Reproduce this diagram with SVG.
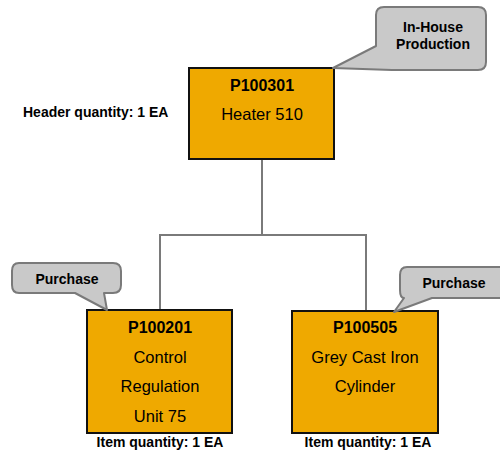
<svg xmlns="http://www.w3.org/2000/svg" width="500" height="456" viewBox="0 0 500 456">
<style>
.box{fill:#efa900;stroke:#111;stroke-width:2}
.call{fill:#c9c9c9;stroke:#7a7a7a;stroke-width:2;stroke-linejoin:round}
.conn{fill:none;stroke:#7a7a7a;stroke-width:2}
text{font-family:"Liberation Sans",Arial,sans-serif;fill:#000}
.id{font-size:16px;font-weight:bold;text-anchor:middle}
.nm{font-size:16.5px;text-anchor:middle}
.lb{font-size:14px;font-weight:bold}
.cl{font-size:14px;font-weight:bold;text-anchor:middle}
</style>
<rect width="500" height="456" fill="#fff"/>
<g id="connectors">
<path class="conn" d="M262,160 V235 M160,235 H366 M160,234 V310 M366,234 V311"/>
</g>
<g id="node-P100301">
<rect class="box" x="189" y="68" width="145" height="91"/>
<text class="id" x="262" y="91">P100301</text>
<text class="nm" x="262" y="120">Heater 510</text>
</g>
<g id="callout-inhouse">
<path class="call" d="M384,7 H478 Q486,7 486,15 V62 Q486,70 478,70 H392 L333,68 L376,46 V15 Q376,7 384,7 Z"/>
<text class="cl" x="433" y="32">In-House</text>
<text class="cl" x="433" y="49">Production</text>
</g>
<text id="header-qty" class="lb" x="23" y="117">Header quantity: 1 EA</text>
<g id="node-P100201">
<rect class="box" x="87" y="310" width="145" height="123"/>
<text class="id" x="160" y="333">P100201</text>
<text class="nm" x="160" y="363">Control</text>
<text class="nm" x="160" y="392">Regulation</text>
<text class="nm" x="160" y="422">Unit 75</text>
</g>
<text class="cl" x="160" y="447">Item quantity: 1 EA</text>
<g id="callout-purchase-1">
<path class="call" d="M19,263 H113 Q121,263 121,271 V285 Q121,293 113,293 H104 L107,310 L75,293 H19 Q12,293 12,285 V271 Q12,263 19,263 Z"/>
<text class="cl" x="67" y="284">Purchase</text>
</g>
<g id="node-P100505">
<rect class="box" x="292" y="311" width="146" height="122"/>
<text class="id" x="365" y="333">P100505</text>
<text class="nm" x="365" y="363">Grey Cast Iron</text>
<text class="nm" x="365" y="392">Cylinder</text>
</g>
<text class="cl" x="368" y="447">Item quantity: 1 EA</text>
<g id="callout-purchase-2">
<path class="call" d="M407,267 H510 V298 H432 L394,312 L404,298 Q400,298 400,290 V275 Q400,267 407,267 Z"/>
<text class="cl" x="454" y="288">Purchase</text>
</g>
</svg>
